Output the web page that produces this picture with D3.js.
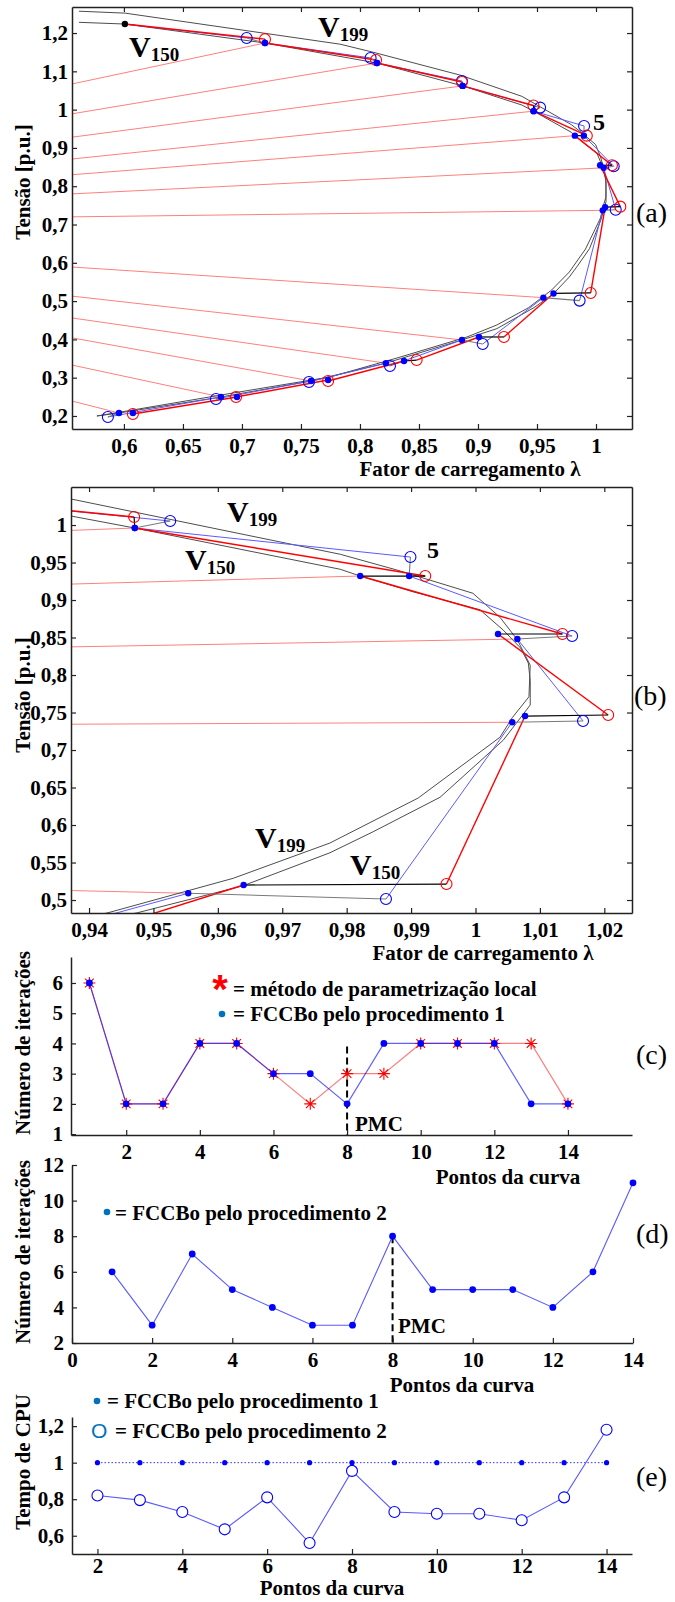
<!DOCTYPE html>
<html>
<head>
<meta charset="utf-8">
<script src="https://cdn.jsdelivr.net/npm/d3@7"></script>
<style>
  body { margin: 0; background: #fff; }
  svg { display: block; }
</style>
</head>
<body>
<svg id="chart" width="675" height="1602"></svg>
<script>
// ---------------- Data ----------------
// Exact PV curves of buses 199 and 150 (loading factor, voltage p.u.)
const curveV199Lambda = [0.5619, 0.601, 0.783, 0.811, 0.885, 0.9372, 0.979, 0.9878, 0.9996, 1.0038, 1.0065, 1.0085, 1.0083, 1.0057, 1.0038, 0.9911, 0.9774, 0.9624, 0.9428, 0.916, 0.8907, 0.8314, 0.7746, 0.6924, 0.6076, 0.5771];
const curveV199V      = [1.257, 1.252, 1.171, 1.150, 1.090, 1.0347, 0.961, 0.940, 0.909, 0.877, 0.847, 0.813, 0.771, 0.743, 0.717, 0.636, 0.576, 0.529, 0.4827, 0.4376, 0.4063, 0.3514, 0.3018, 0.260, 0.2157, 0.200];
const curveV150Lambda = [0.5619, 0.6008, 0.7195, 0.8144, 0.887, 0.9372, 0.9471, 0.979, 0.9821, 0.9903, 1.0007, 1.0043, 1.007, 1.0082, 1.0085, 1.0085, 1.0043, 0.9945, 0.9841, 0.9774, 0.9639, 0.9475, 0.916, 0.8864, 0.822, 0.7585, 0.6822, 0.5958, 0.5771];
const curveV150V      = [1.228, 1.2235, 1.174, 1.1217, 1.062, 1.012, 0.996, 0.941, 0.932, 0.911, 0.887, 0.860, 0.836, 0.816, 0.793, 0.760, 0.713, 0.637, 0.591, 0.563, 0.519, 0.483, 0.428, 0.3985, 0.338, 0.2914, 0.2496, 0.2078, 0.200];

// Initial (base case) point
const startLambda = 0.6008;
const startV = 1.2235;

// Predicted points (open circles) and corrected points (filled dots), steps 1..13
const redPredLambda  = [0.7195, 0.8136, 0.8864, 0.9470, 0.9922, 1.0135, 1.0206, 0.9955, 0.9220, 0.8480, 0.7730, 0.6950, 0.6076];
const redPredV       = [1.184, 1.1295, 1.072, 1.0107, 0.932, 0.8547, 0.7467, 0.5213, 0.4063, 0.346, 0.2914, 0.2496, 0.2052];
const bluePredLambda = [0.7040, 0.8090, 0.8864, 0.9526, 0.9899, 1.0150, 1.0167, 0.9861, 0.9040, 0.8254, 0.7568, 0.6780, 0.5864];
const bluePredV      = [1.187, 1.135, 1.0747, 1.0053, 0.9573, 0.852, 0.7387, 0.5013, 0.388, 0.3305, 0.2888, 0.2444, 0.1974];
const redCorrLambda  = [0.7195, 0.8144, 0.8870, 0.9471, 0.9821, 1.0035, 1.0077, 0.9640, 0.9008, 0.8373, 0.7730, 0.6958, 0.6076];
const redCorrV       = [1.174, 1.1217, 1.062, 0.996, 0.932, 0.8547, 0.7453, 0.520, 0.4063, 0.3436, 0.294, 0.2496, 0.2078];
const blueCorrLambda = [0.7195, 0.8144, 0.8870, 0.9471, 0.9897, 1.0065, 1.0057, 0.9554, 0.8864, 0.8220, 0.7585, 0.6822, 0.5958];
const blueCorrV      = [1.174, 1.1217, 1.062, 0.996, 0.932, 0.848, 0.737, 0.509, 0.3985, 0.338, 0.2914, 0.2496, 0.2078];

// Parametrization rays: voltage where each ray leaves the left border, and which corrected point it reaches
const rayOriginLambda = 0.556;
const rayLeftV = [1.067, 0.989, 0.928, 0.871, 0.830, 0.780, 0.720, 0.589, 0.513, 0.456, 0.404, 0.333, 0.239];
const rayEndsAtRed = [false, false, false, false, true, false, false, false, false, false, false, false, false];

// Iterations per curve point
const curvePoints      = [1, 2, 3, 4, 5, 6, 7, 8, 9, 10, 11, 12, 13, 14];
const itersLocal       = [6, 2, 2, 4, 4, 3, 2, 3, 3, 4, 4, 4, 4, 2];
const itersProc1       = [6, 2, 2, 4, 4, 3, 3, 2, 4, 4, 4, 4, 2, 2];
const itersProc2       = [6, 3, 7, 5, 4, 3, 3, 8, 5, 5, 5, 4, 6, 11];
const pmcPoint = 8;
const pmcTopC = 3.9;

// CPU time per curve point (normalised)
const cpuPoints = [2, 3, 4, 5, 6, 7, 8, 9, 10, 11, 12, 13, 14];
const cpuProc1  = [1, 1, 1, 1, 1, 1, 1, 1, 1, 1, 1, 1, 1];
const cpuProc2  = [0.82, 0.795, 0.73, 0.635, 0.81, 0.56, 0.955, 0.73, 0.72, 0.72, 0.685, 0.81, 1.18];

// Tick values
const ticksAx = [0.6, 0.65, 0.7, 0.75, 0.8, 0.85, 0.9, 0.95, 1];
const ticksAy = [0.2, 0.3, 0.4, 0.5, 0.6, 0.7, 0.8, 0.9, 1, 1.1, 1.2];
const ticksBx = [0.94, 0.95, 0.96, 0.97, 0.98, 0.99, 1, 1.01, 1.02];
const ticksBy = [0.5, 0.55, 0.6, 0.65, 0.7, 0.75, 0.8, 0.85, 0.9, 0.95, 1];
const ticksCx = [2, 4, 6, 8, 10, 12, 14];
const ticksCy = [1, 2, 3, 4, 5, 6];
const ticksDx = [0, 2, 4, 6, 8, 10, 12, 14];
const ticksDy = [2, 4, 6, 8, 10, 12];
const ticksEx = [2, 4, 6, 8, 10, 12, 14];
const ticksEy = [0.6, 0.8, 1, 1.2];

// ---------------- Drawing ----------------
const SERIF = "'Liberation Serif','Times New Roman',serif";
const SANS = "'Liberation Sans',Arial,sans-serif";
const svg = d3.select("#chart");
const defs = svg.append("defs");
const fmt = v => String(+v.toFixed(3)).replace(".", ",");

function styleAxis(sel, showText) {
  sel.select(".domain").attr("stroke", "#222").attr("stroke-width", 1.5);
  sel.selectAll(".tick line").attr("stroke", "#222").attr("stroke-width", 1.2);
  sel.selectAll(".tick text")
    .attr("fill", "#000")
    .style("font-family", SERIF)
    .style("font-size", "21px")
    .style("font-weight", "bold")
    .style("display", showText ? null : "none");
}

function drawAxes(x, y, xt, yt, box, xPad, yPad) {
  const [xl, xr] = x.range();
  const [yb, yt0] = y.range();
  const g = svg.append("g");
  g.append("g").attr("transform", `translate(0,${yb})`)
    .call(d3.axisBottom(x).tickValues(xt).tickSizeInner(-5).tickSizeOuter(0).tickPadding(xPad).tickFormat(fmt))
    .call(s => styleAxis(s, true));
  g.append("g").attr("transform", `translate(${xl},0)`)
    .call(d3.axisLeft(y).tickValues(yt).tickSizeInner(-5).tickSizeOuter(0).tickPadding(yPad).tickFormat(fmt))
    .call(s => styleAxis(s, true));
  if (box) {
    g.append("g").attr("transform", `translate(0,${yt0})`)
      .call(d3.axisTop(x).tickValues(xt).tickSizeInner(-5).tickSizeOuter(0).tickFormat(""))
      .call(s => styleAxis(s, false));
    g.append("g").attr("transform", `translate(${xr},0)`)
      .call(d3.axisRight(y).tickValues(yt).tickSizeInner(-5).tickSizeOuter(0).tickFormat(""))
      .call(s => styleAxis(s, false));
  }
  return g;
}

function label(txt, x, y, size, opts = {}) {
  const t = svg.append("text").attr("x", x).attr("y", y)
    .style("font-family", opts.family || SERIF)
    .style("font-size", size + "px")
    .style("font-weight", opts.weight || "bold")
    .attr("fill", opts.fill || "#000")
    .attr("text-anchor", opts.anchor || "start")
    .text(txt);
  if (opts.rotate) t.attr("transform", `rotate(-90,${x},${y})`);
  return t;
}

function busLabel(x, y, sub) {
  const t = svg.append("text").attr("x", x).attr("y", y)
    .style("font-family", SERIF).style("font-weight", "bold").style("font-size", "30px").attr("fill", "#000");
  t.append("tspan").text("V");
  t.append("tspan").attr("dy", 4).style("font-size", "19px").text(sub);
}

// PV panel (curves, predictor/corrector steps, rays)
function drawPV(x, y, clipId) {
  const [xl, xr] = x.range();
  const [yb, yt] = y.range();
  defs.append("clipPath").attr("id", clipId).append("rect")
    .attr("x", xl).attr("y", yt).attr("width", xr - xl).attr("height", yb - yt);
  const p = svg.append("g").attr("clip-path", `url(#${clipId})`);
  const line = d3.line().x(d => x(d[0])).y(d => y(d[1]));
  const n = redPredLambda.length;
  const idx = d3.range(n);

  // parametrization rays
  idx.forEach(i => {
    const end = rayEndsAtRed[i] ? [redCorrLambda[i], redCorrV[i]] : [blueCorrLambda[i], blueCorrV[i]];
    p.append("path").attr("d", line([[rayOriginLambda, rayLeftV[i]], end]))
      .attr("fill", "none").attr("stroke", "#ff7f7f").attr("stroke-width", 1);
  });

  // exact curves
  [[curveV199Lambda, curveV199V], [curveV150Lambda, curveV150V]].forEach(([lx, vy]) => {
    p.append("path").attr("d", line(lx.map((l, i) => [l, vy[i]])))
      .attr("fill", "none").attr("stroke", "#4d4d4d").attr("stroke-width", 1);
  });

  // predictor steps, blue method
  idx.forEach(i => {
    const from = i === 0 ? [startLambda, startV] : [blueCorrLambda[i - 1], blueCorrV[i - 1]];
    p.append("path").attr("d", line([from, [bluePredLambda[i], bluePredV[i]]]))
      .attr("fill", "none").attr("stroke", "#5a5aff").attr("stroke-width", 1);
  });
  // predictor steps, red method
  idx.forEach(i => {
    const from = i === 0 ? [startLambda, startV] : [redCorrLambda[i - 1], redCorrV[i - 1]];
    p.append("path").attr("d", line([from, [redPredLambda[i], redPredV[i]]]))
      .attr("fill", "none").attr("stroke", "#ff0000").attr("stroke-width", 1.4);
  });
  // corrector steps
  idx.forEach(i => {
    p.append("path").attr("d", line([[bluePredLambda[i], bluePredV[i]], [blueCorrLambda[i], blueCorrV[i]]]))
      .attr("fill", "none").attr("stroke", "#7a7a7a").attr("stroke-width", 1.1);
    p.append("path").attr("d", line([[redPredLambda[i], redPredV[i]], [redCorrLambda[i], redCorrV[i]]]))
      .attr("fill", "none").attr("stroke", "#000").attr("stroke-width", 1.2);
  });

  // markers
  idx.forEach(i => {
    p.append("circle").attr("cx", x(bluePredLambda[i])).attr("cy", y(bluePredV[i])).attr("r", 5.5)
      .attr("fill", "none").attr("stroke", "#0000ff").attr("stroke-width", 1.1);
    p.append("circle").attr("cx", x(redPredLambda[i])).attr("cy", y(redPredV[i])).attr("r", 5.5)
      .attr("fill", "none").attr("stroke", "#ff0000").attr("stroke-width", 1.1);
  });
  idx.forEach(i => {
    p.append("circle").attr("cx", x(redCorrLambda[i])).attr("cy", y(redCorrV[i])).attr("r", 3.2).attr("fill", "#0000ff");
    p.append("circle").attr("cx", x(blueCorrLambda[i])).attr("cy", y(blueCorrV[i])).attr("r", 3.2).attr("fill", "#0000ff");
  });
  p.append("circle").attr("cx", x(startLambda)).attr("cy", y(startV)).attr("r", 3.2).attr("fill", "#000");
}

// ----- Panel (a) -----
const xA = d3.scaleLinear().domain([0.556, 1.0305]).range([72, 632]);
const yA = d3.scaleLinear().domain([0.166, 1.268]).range([429, 7]);
drawPV(xA, yA, "clipA");
drawAxes(xA, yA, ticksAx, ticksAy, true, 9, 4);
busLabel(129, 57, "150");
busLabel(318, 37, "199");
label("5", 593, 130, 24);
label("(a)", 636, 222, 28, { weight: "normal" });
label("Fator de carregamento λ", 470, 476, 21, { anchor: "middle" });
label("Tensão [p.u.]", 30, 182, 21, { anchor: "middle", rotate: true });

// ----- Panel (b) -----
const xB = d3.scaleLinear().domain([0.9372, 1.0243]).range([71, 632]);
const yB = d3.scaleLinear().domain([0.4827, 1.0507]).range([913, 487]);
drawPV(xB, yB, "clipB");
drawAxes(xB, yB, ticksBx, ticksBy, true, 9, 4);
busLabel(227, 522, "199");
busLabel(185, 570, "150");
busLabel(255, 848, "199");
busLabel(350, 875, "150");
label("5", 427, 558, 24);
label("(b)", 634, 705, 28, { weight: "normal" });
label("Fator de carregamento λ", 483, 960, 21, { anchor: "middle" });
label("Tensão [p.u.]", 30, 695, 21, { anchor: "middle", rotate: true });

// Asterisk marker path
function starPath(s) {
  const d = s * 0.72;
  return `M${-s},0L${s},0M0,${-s}L0,${s}M${-d},${-d}L${d},${d}M${-d},${d}L${d},${-d}`;
}

// ----- Panel (c) -----
const xC = d3.scaleLinear().domain([0.5, 15.74]).range([71, 632]);
const yC = d3.scaleLinear().domain([0.97, 6.86]).range([1135, 957]);
const lineC = (ys) => d3.line().x((d, i) => xC(curvePoints[i])).y(d => yC(d))(ys);
svg.append("line").attr("x1", xC(pmcPoint)).attr("x2", xC(pmcPoint)).attr("y1", yC(pmcTopC)).attr("y2", yC.range()[0])
  .attr("stroke", "#000").attr("stroke-width", 2).attr("stroke-dasharray", "7,4");
svg.append("path").attr("d", lineC(itersLocal)).attr("fill", "none").attr("stroke", "#ff0000").attr("stroke-opacity", 0.5).attr("stroke-width", 1.2);
svg.append("path").attr("d", lineC(itersProc1)).attr("fill", "none").attr("stroke", "#0000ff").attr("stroke-opacity", 0.62).attr("stroke-width", 1.2);
itersLocal.forEach((v, i) => {
  svg.append("path").attr("d", starPath(6)).attr("transform", `translate(${xC(curvePoints[i])},${yC(v)})`)
    .attr("stroke", "#ff0000").attr("stroke-width", 1.1).attr("fill", "none");
});
itersProc1.forEach((v, i) => {
  svg.append("circle").attr("cx", xC(curvePoints[i])).attr("cy", yC(v)).attr("r", 3.4).attr("fill", "#0000ff");
});
drawAxes(xC, yC, ticksCx, ticksCy, false, 9, 8);
label("*", 220, 1003, 40, { fill: "#ff0000", anchor: "middle", family: SANS });
label("= método de parametrização local", 233, 996, 21);
svg.append("circle").attr("cx", 222).attr("cy", 1014).attr("r", 3.3).attr("fill", "#0072bd");
label("= FCCBo pelo procedimento 1", 233, 1021, 21);
label("PMC", 355, 1131, 21);
label("(c)", 636, 1064, 28, { weight: "normal" });
label("Pontos da curva", 508, 1184, 21, { anchor: "middle" });
label("Número de iterações", 30, 1043, 21, { anchor: "middle", rotate: true });

// ----- Panel (d) -----
const xD = d3.scaleLinear().domain([0, 14]).range([72, 633]);
const yD = d3.scaleLinear().domain([2, 12]).range([1343, 1165]);
svg.append("line").attr("x1", xD(pmcPoint)).attr("x2", xD(pmcPoint)).attr("y1", yD(itersProc2[pmcPoint - 1])).attr("y2", yD.range()[0])
  .attr("stroke", "#000").attr("stroke-width", 2).attr("stroke-dasharray", "7,4");
svg.append("path").attr("d", d3.line().x((d, i) => xD(curvePoints[i])).y(d => yD(d))(itersProc2))
  .attr("fill", "none").attr("stroke", "#5a5aff").attr("stroke-width", 1.1);
itersProc2.forEach((v, i) => {
  svg.append("circle").attr("cx", xD(curvePoints[i])).attr("cy", yD(v)).attr("r", 3.4).attr("fill", "#0000ff");
});
drawAxes(xD, yD, ticksDx, ticksDy, false, 9, 8);
svg.append("circle").attr("cx", 107).attr("cy", 1212).attr("r", 3.3).attr("fill", "#0072bd");
label("= FCCBo pelo procedimento 2", 115, 1220, 21);
label("PMC", 398, 1333, 21);
label("(d)", 636, 1243, 28, { weight: "normal" });
label("Pontos da curva", 462, 1392, 21, { anchor: "middle" });
label("Número de iterações", 30, 1252, 21, { anchor: "middle", rotate: true });

// ----- Panel (e) -----
const xE = d3.scaleLinear().domain([1.4, 14.6]).range([72, 632]);
const yE = d3.scaleLinear().domain([0.5, 1.25]).range([1554, 1417]);
svg.append("path").attr("d", d3.line().x((d, i) => xE(cpuPoints[i])).y(d => yE(d))(cpuProc1))
  .attr("fill", "none").attr("stroke", "#3030ff").attr("stroke-width", 1).attr("stroke-dasharray", "1.5,2");
svg.append("path").attr("d", d3.line().x((d, i) => xE(cpuPoints[i])).y(d => yE(d))(cpuProc2))
  .attr("fill", "none").attr("stroke", "#5a5aff").attr("stroke-width", 1.1);
cpuProc1.forEach((v, i) => {
  svg.append("circle").attr("cx", xE(cpuPoints[i])).attr("cy", yE(v)).attr("r", 2.6).attr("fill", "#0000ff");
});
cpuProc2.forEach((v, i) => {
  svg.append("circle").attr("cx", xE(cpuPoints[i])).attr("cy", yE(v)).attr("r", 5.5)
    .attr("fill", "#fff").attr("stroke", "#0000ff").attr("stroke-width", 1.1);
});
drawAxes(xE, yE, ticksEx, ticksEy, false, 4, 8);
svg.append("circle").attr("cx", 97).attr("cy", 1401).attr("r", 3.3).attr("fill", "#0072bd");
label("= FCCBo pelo procedimento 1", 107, 1408, 21);
label("O", 91, 1438, 21, { fill: "#0072bd", family: SANS, weight: "normal" });
label("= FCCBo pelo procedimento 2", 115, 1438, 21);
label("(e)", 636, 1486, 28, { weight: "normal" });
label("Pontos da curva", 332, 1595, 21, { anchor: "middle" });
label("Tempo de CPU", 30, 1462, 21, { anchor: "middle", rotate: true });
</script>
</body>
</html>
